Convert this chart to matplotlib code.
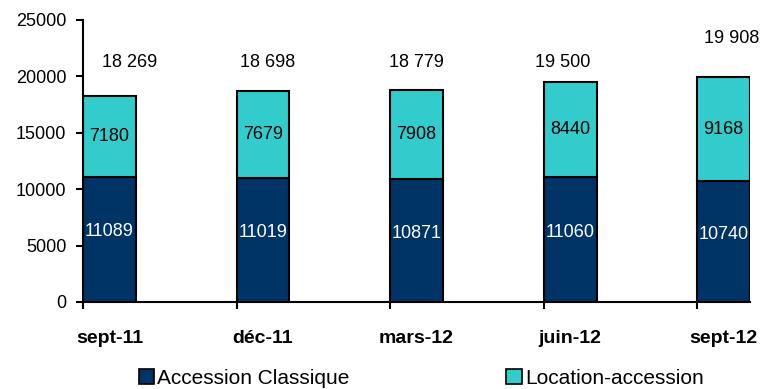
import matplotlib
matplotlib.use("Agg")
import matplotlib.pyplot as plt
from matplotlib.patches import Patch
import numpy as np

# Quarterly counts
periods = ['sept-11', 'déc-11', 'mars-12', 'juin-12', 'sept-12']
classique = [11089, 11019, 10871, 11060, 10740]
location = [7180, 7679, 7908, 8440, 9168]
totals = [18269, 18698, 18779, 19500, 19908]
total_labels = ['18 269', '18 698', '18 779', '19 500', '19 908']

# where the total labels sit and how far they drift from the bar center
label_heights = [21200, 21200, 21200, 21200, 23400]
label_shift = [0.13, 0.03, 0.0, -0.05, 0.05]

navy = '#003366'
cyan = '#33CCCC'

plt.rcParams['font.family'] = ['Liberation Sans', 'DejaVu Sans']

fig = plt.figure(figsize=(7.63, 3.89), dpi=100)
ax = fig.add_axes([0.1088, 0.2237, 0.8742, 0.7249])

x = np.arange(len(periods))
w = 0.345

ax.bar(x, classique, width=w, align='edge', color=navy, edgecolor='black', linewidth=1.5)
ax.bar(x, location, width=w, bottom=classique, align='edge', color=cyan,
       edgecolor='black', linewidth=1.5)

for i in range(len(periods)):
    cx = x[i] + w / 2
    ax.text(cx, classique[i] * 0.56, str(classique[i]), ha='center', va='center',
            color='white', fontsize=13)
    ax.text(cx, classique[i] + location[i] / 2, str(location[i]), ha='center',
            va='center', color='black', fontsize=13)
    ax.text(cx + label_shift[i], label_heights[i], total_labels[i], ha='center',
            va='center', color='black', fontsize=13)

ax.set_xlim(0, len(periods) - 1 + w)
ax.set_ylim(0, 25000)
ax.set_yticks(range(0, 25001, 5000))
ax.set_yticklabels([str(v) for v in range(0, 25001, 5000)], fontsize=13)
ax.tick_params(axis='y', length=5, width=1.5, pad=7)

# ticks at bar edges, labels under bar centers
ax.set_xticks(x)
ax.set_xticklabels([])
ax.set_xticks(x + w / 2, minor=True)
ax.set_xticklabels(periods, minor=True, fontsize=14, fontweight='bold')
ax.tick_params(axis='x', which='major', length=5, width=1.5)
ax.tick_params(axis='x', which='minor', length=0, pad=20)

for side in ['top', 'right']:
    ax.spines[side].set_visible(False)
for side in ['left', 'bottom']:
    ax.spines[side].set_linewidth(1.5)

handles = [Patch(facecolor=navy, edgecolor='black', linewidth=1.2),
           Patch(facecolor=cyan, edgecolor='black', linewidth=1.2)]
fig.legend(handles, ['Accession Classique', 'Location-accession'], loc='lower center',
           bbox_to_anchor=(0.552, -0.045), ncol=2, frameon=False, fontsize=15,
           handlelength=0.75, handleheight=0.75, handletextpad=0.15, columnspacing=7.5)

fig.savefig('out.png', dpi=100)
